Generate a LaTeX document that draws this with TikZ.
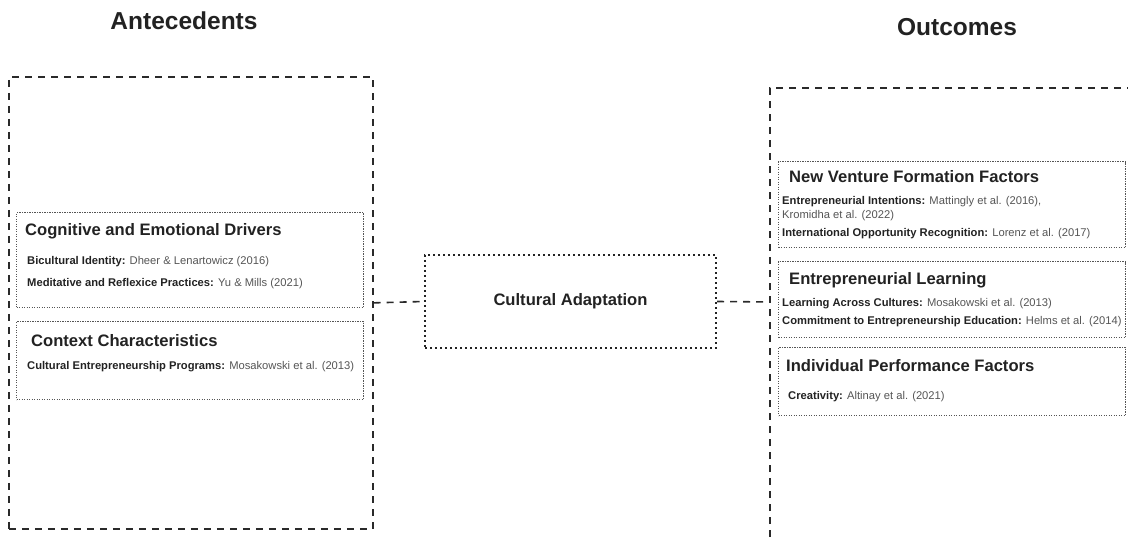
\documentclass[tikz,border=0pt]{standalone}
\usepackage{fontspec}
\setmainfont{Liberation Sans}
\definecolor{ink}{HTML}{222222}
\definecolor{cite}{HTML}{555555}
\definecolor{dotc}{HTML}{555555}
\definecolor{dashc}{HTML}{2A2A2A}
\tikzset{
  outerbox/.style={draw=dashc, line width=1.7pt, dash pattern=on 7pt off 6pt},
  innerbox/.style={draw=dotc, line width=1.3pt, dash pattern=on 1.2pt off 1.3pt, rectangle, inner sep=0pt, anchor=north west},
  centerbox/.style={draw=ink, line width=2.4pt, dash pattern=on 2.4pt off 2.6pt, rectangle, inner sep=0pt, font=\fontsize{16.6}{20}\selectfont\bfseries, text=ink},
  link/.style={draw=dashc, line width=1.6pt, dash pattern=on 7pt off 6pt},
  title/.style={font=\fontsize{24.5}{29}\selectfont\bfseries, text=ink, anchor=base, inner sep=0pt},
  header/.style={font=\fontsize{16.6}{20}\selectfont\bfseries, text=ink, anchor=base west, inner sep=0pt},
  entry/.style={font=\fontsize{11.2}{13}\selectfont, text=cite, anchor=base west, inner sep=0pt},
}
\newcommand{\lbl}[1]{\textcolor{ink}{\bfseries #1}}
\begin{document}
\begin{tikzpicture}[x=1pt,y=1pt]
\useasboundingbox (0,0) rectangle (1128,-537);

% titles
\node[title] (tA) at (184,-30) {Antecedents};
\node[title] (tO) at (957,-36) {Outcomes};

% left outer box
\node[outerbox, rectangle, inner sep=0pt, minimum width=364pt, minimum height=452pt, anchor=north west] (ante) at (8,-76) {};

% right outer box (cut by the picture edge)
\draw[outerbox] (770,-537) -- (770,-88) -- (1128,-88);
\coordinate (outc) at (770,-302);

% inner boxes left
\node[innerbox, minimum width=347pt, minimum height=95pt] (cog) at (16,-212) {};
\node[header] (cogH) at (25,-236) {Cognitive and Emotional Drivers};
\node[entry] (cog1) at (27,-265) {\lbl{Bicultural Identity:} Dheer \& Lenartowicz (2016)};
\node[entry] (cog2) at (27,-287) {\lbl{Meditative and Reflexice Practices:} Yu \& Mills (2021)};

\node[innerbox, minimum width=347pt, minimum height=78pt] (ctx) at (16,-321) {};
\node[header] (ctxH) at (31,-347) {Context Characteristics};
\node[entry] (ctx1) at (27,-370) {\lbl{Cultural Entrepreneurship Programs:} Mosakowski et al. (2013)};

% center
\node[centerbox, minimum width=291pt, minimum height=93pt] (ca) at (570.5,-301.5) {Cultural Adaptation};

% inner boxes right
\node[innerbox, minimum width=347pt, minimum height=86pt] (nvf) at (778,-161) {};
\node[header] (nvfH) at (789,-183) {New Venture Formation Factors};
\node[entry] (nvf1) at (782,-205) {\lbl{Entrepreneurial Intentions:} Mattingly et al. (2016),};
\node[entry] (nvf2) at (782,-219) {Kromidha et al. (2022)};
\node[entry] (nvf3) at (782,-237) {\lbl{International Opportunity Recognition:} Lorenz et al. (2017)};

\node[innerbox, minimum width=347pt, minimum height=76pt] (el) at (778,-261) {};
\node[header] (elH) at (789,-285) {Entrepreneurial Learning};
\node[entry] (el1) at (782,-307) {\lbl{Learning Across Cultures:} Mosakowski et al. (2013)};
\node[entry] (el2) at (782,-325) {\lbl{Commitment to Entrepreneurship Education:} Helms et al. (2014)};

\node[innerbox, minimum width=347pt, minimum height=68pt] (ip) at (778,-347) {};
\node[header] (ipH) at (786,-372) {Individual Performance Factors};
\node[entry] (ip1) at (788,-400) {\lbl{Creativity:} Altinay et al. (2021)};

% connectors
\draw[link] (ante.east) -- (ca.west);
\draw[link] (ca.east) -- (outc);
\end{tikzpicture}
\end{document}
